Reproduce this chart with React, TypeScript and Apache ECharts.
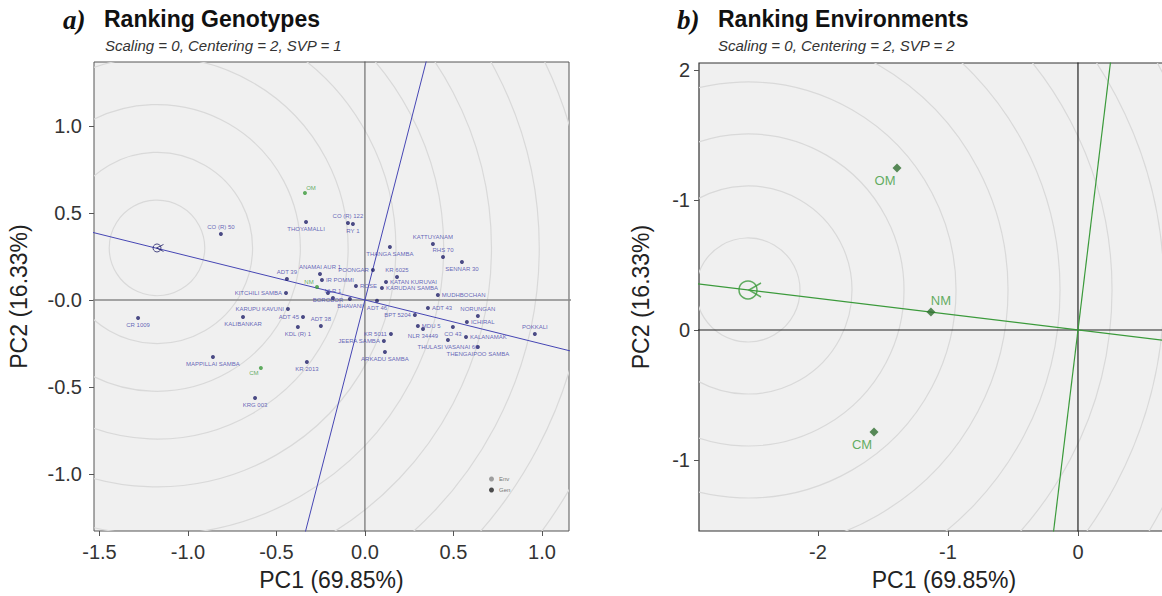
import React, { useEffect, useRef } from "react";
import * as echarts from "echarts";

// ---------- Panel a) genotypes ----------
const genotypeNames = [
  "CR 1009", "CO (R) 50", "THOYAMALLI", "CO (R) 122", "RY 1", "KATTUYANAM", "RHS 70", "SENNAR 30",
  "THANGA SAMBA", "ANAMAI AUR 1", "IR POMMI", "POONGAR", "KR 6025", "ADT 39", "KITCHILI SAMBA",
  "BOROBOR", "NLR 1", "ROSE", "BHAVANI", "KATAN KURUVAI", "KARUDAN SAMBA", "ADT 46", "MUDHBOCHAN",
  "ADT 43", "NORUNGAN", "BPT 5204", "MDU 5", "NLR 34449", "ICHIRAL", "CO 43", "POKKALI",
  "KALANAMAK", "THULASI VASANAI 66", "THENGAIPOO SAMBA", "KR 5011", "JEERA SAMBA", "ARKADU SAMBA",
  "KR 2013", "MAPPILLAI SAMBA", "KRG 003", "KALIBANKAR", "KARUPU KAVUNI", "ADT 45", "ADT 38", "KDL (R) 1",
];
const genotypePC1 = [
  -1.282, -0.814, -0.333, -0.096, -0.068, 0.384, 0.441, 0.548,
  0.141, -0.254, -0.243, 0.045, 0.181, -0.441, -0.446,
  -0.209, -0.181, -0.051, -0.085, 0.119, 0.096, 0.068, 0.412,
  0.356, 0.638, 0.282, 0.299, 0.328, 0.576, 0.497, 0.960,
  0.571, 0.469, 0.638, 0.147, 0.107, 0.113,
  -0.328, -0.859, -0.621, -0.689, -0.435, -0.350, -0.249, -0.379,
];
const genotypePC2 = [
  -0.103, 0.379, 0.448, 0.443, 0.437, 0.322, 0.247, 0.218,
  0.305, 0.149, 0.115, 0.172, 0.132, 0.121, 0.040,
  0.040, 0.011, 0.080, 0.006, 0.103, 0.069, -0.005, 0.029,
  -0.046, -0.092, -0.086, -0.149, -0.167, -0.126, -0.155, -0.195,
  -0.213, -0.230, -0.270, -0.195, -0.236, -0.299,
  -0.356, -0.328, -0.563, -0.098, -0.052, -0.098, -0.149, -0.155,
];
const genotypeLabelSide = [
  "bottom", "top", "bottom", "top", "bottom", "top", "top", "bottom",
  "bottom", "top", "right", "left", "top", "top", "left",
  "bottom", "top", "right", "bottom", "right", "right", "bottom", "right",
  "right", "top", "left", "right", "bottom", "right", "bottom", "top",
  "right", "bottom", "bottom", "left", "left", "bottom",
  "bottom", "bottom", "bottom", "bottom", "left", "left", "top", "bottom",
];

// environments
const envNames = ["OM", "NM", "CM"];
const envPC1_A = [-0.339, -0.271, -0.588];
const envPC2_A = [0.615, 0.075, -0.391];
const envPC1_B = [-1.392, -1.131, -1.569];
const envPC2_B = [1.246, 0.138, -0.785];

// ideal points, rings, reference lines
const idealA = [-1.175, 0.299];
const idealB = [-2.538, 0.308];
const ringRadiiA = [0.27, 0.54, 0.81, 1.08, 1.35, 1.62, 1.89, 2.16, 2.43, 2.7, 2.97];
const ringRadiiB = [0.4, 0.8, 1.2, 1.6, 2.0, 2.4, 2.8, 3.2, 3.6, 4.0];
const aecLineA = [[-1.6, 0.404], [1.2, -0.303]];
const atcLineA = [[-0.3535, -1.4], [0.3535, 1.4]];
const aecLineB = [[-3.0, 0.364], [1.0, -0.121]];
const atcLineB = [[-0.194, -1.6], [0.255, 2.1]];

// axes
const xRangeA = [-1.531, 1.153];
const yRangeA = [-1.328, 1.368];
const xRangeB = [-2.915, 0.854];
const yRangeB = [-1.546, 2.054];
const xTicksA = [-1.5, -1.0, -0.5, 0.0, 0.5, 1.0];
const xTickLabelsA = ["-1.5", "-1.0", "-0.5", "0.0", "0.5", "1.0"];
const yTicksA = [-1.0, -0.5, 0.0, 0.5, 1.0];
const yTickLabelsA = ["-1.0", "-0.5", "-0.0", "0.5", "1.0"];
const xTicksB = [-2, -1, 0];
const xTickLabelsB = ["-2", "-1", "0"];
const yTicksB = [-1, 0, 1, 2];
const yTickLabelsB = ["-1", "0", "-1", "2"];

const labelFor = (ticks: number[], labels: string[]) => (v: number) => {
  const i = ticks.findIndex((t) => Math.abs(t - v) < 1e-6);
  return i >= 0 ? labels[i] : "";
};

const FONT = "'Liberation Sans', Arial, sans-serif";

function ringSeries(center: number[], radii: number[], idx: number) {
  return {
    type: "custom",
    xAxisIndex: idx,
    yAxisIndex: idx,
    clip: true,
    silent: true,
    z: 1,
    data: radii.map((r) => [center[0], center[1], r]),
    encode: { x: 0, y: 1 },
    renderItem: (params: any, api: any) => {
      const c = api.coord([api.value(0), api.value(1)]);
      const r = api.size([api.value(2), 0])[0];
      return {
        type: "circle",
        shape: { cx: c[0], cy: c[1], r },
        style: { fill: "none", stroke: "#d9d9d9", lineWidth: 1.2 },
      };
    },
  };
}

function lineSeries(data: number[][], idx: number, color: string, width: number, z = 3) {
  return {
    type: "line",
    xAxisIndex: idx,
    yAxisIndex: idx,
    data,
    symbol: "none",
    silent: true,
    clip: true,
    z,
    lineStyle: { color, width },
  };
}

function xAxisCfg(idx: number, range: number[], ticks: number[], labels: string[]) {
  return {
    type: "value",
    gridIndex: idx,
    min: range[0],
    max: range[1],
    axisLine: { show: false, onZero: false },
    splitLine: { show: false },
    axisTick: { show: true, length: 5, customValues: ticks, lineStyle: { color: "#555" } },
    axisLabel: {
      customValues: ticks,
      formatter: labelFor(ticks, labels),
      fontSize: 20,
      color: "#333",
      margin: 11,
      fontFamily: FONT,
    },
    name: "PC1 (69.85%)",
    nameLocation: "middle",
    nameGap: 37,
    nameTextStyle: { fontSize: 23, color: "#222", fontFamily: FONT },
  };
}

function yAxisCfg(idx: number, range: number[], ticks: number[], labels: string[], gap: number, margin: number) {
  return {
    type: "value",
    gridIndex: idx,
    min: range[0],
    max: range[1],
    axisLine: { show: false, onZero: false },
    splitLine: { show: false },
    axisTick: { show: true, length: 5, customValues: ticks, lineStyle: { color: "#555" } },
    axisLabel: {
      customValues: ticks,
      formatter: labelFor(ticks, labels),
      fontSize: 20,
      color: "#333",
      margin,
      fontFamily: FONT,
    },
    name: "PC2 (16.33%)",
    nameLocation: "middle",
    nameGap: gap,
    nameTextStyle: { fontSize: 23, color: "#222", fontFamily: FONT },
  };
}

export default function App() {
  const ref = useRef<HTMLDivElement>(null);
  useEffect(() => {
    document.body.style.margin = "0";
    if (!ref.current) return;
    const chart = echarts.init(ref.current, null, { renderer: "svg" });

    const genData = genotypeNames.map((n, i) => ({
      name: n,
      value: [genotypePC1[i], genotypePC2[i]],
      label: { position: genotypeLabelSide[i] },
    }));
    const envPlaceA = [
      { position: "top", offset: [6, 2] },
      { position: "top", offset: [-8, 2] },
      { position: "bottom", offset: [-7, -2] },
    ];
    const envDataA = envNames.map((n, i) => ({ name: n, value: [envPC1_A[i], envPC2_A[i]], label: envPlaceA[i] }));
    const envPlaceB = [
      { position: "bottom", offset: [-12, -3] },
      { position: "top", offset: [10, 3] },
      { position: "bottom", offset: [-12, -3] },
    ];
    const envDataB = envNames.map((n, i) => ({
      name: n,
      value: [envPC1_B[i], envPC2_B[i]],
      label: envPlaceB[i],
    }));

    const green = "#3b9a3b";
    const navy = "#22226a";

    chart.setOption({
      animation: false,
      textStyle: { fontFamily: FONT },
      grid: [
        { left: 94, top: 62, width: 475, height: 469, outerBoundsMode: "none", containLabel: false, show: true, backgroundColor: "#f0f0f0", borderColor: "#555", borderWidth: 1 },
        { left: 699, top: 63, width: 490, height: 468, outerBoundsMode: "none", containLabel: false, show: true, backgroundColor: "#f0f0f0", borderColor: "#333", borderWidth: 1.2 },
      ],
      xAxis: [xAxisCfg(0, xRangeA, xTicksA, xTickLabelsA), xAxisCfg(1, xRangeB, xTicksB, xTickLabelsB)],
      yAxis: [
        yAxisCfg(0, yRangeA, yTicksA, yTickLabelsA, 64, 12),
        yAxisCfg(1, yRangeB, yTicksB, yTickLabelsB, 47, 9),
      ],
      legend: {
        left: 484,
        top: 471,
        orient: "vertical",
        itemWidth: 5,
        itemHeight: 5,
        itemGap: 5,
        selectedMode: false,
        textStyle: { fontSize: 6, color: "#777" },
        data: [
          { name: "Env", icon: "circle", itemStyle: { color: "#888" } },
          { name: "Gen", icon: "circle", itemStyle: { color: "#222" } },
        ],
      },
      graphic: [
        { type: "text", x: 63, y: 20, style: { text: "a)", fontSize: 27, fontWeight: "bold", fontStyle: "italic", fontFamily: "'Liberation Serif', serif", fill: "#111", verticalAlign: "middle", textVerticalAlign: "middle" } },
        { type: "text", x: 104, y: 19, style: { text: "Ranking Genotypes", fontSize: 23, fontWeight: "bold", fontFamily: FONT, fill: "#111", verticalAlign: "middle", textVerticalAlign: "middle" } },
        { type: "text", x: 105, y: 45, style: { text: "Scaling = 0, Centering = 2, SVP = 1", fontSize: 15, fontStyle: "italic", fontFamily: FONT, fill: "#333", verticalAlign: "middle", textVerticalAlign: "middle" } },
        { type: "text", x: 677, y: 20, style: { text: "b)", fontSize: 27, fontWeight: "bold", fontStyle: "italic", fontFamily: "'Liberation Serif', serif", fill: "#111", verticalAlign: "middle", textVerticalAlign: "middle" } },
        { type: "text", x: 718, y: 19, style: { text: "Ranking Environments", fontSize: 23, fontWeight: "bold", fontFamily: FONT, fill: "#111", verticalAlign: "middle", textVerticalAlign: "middle" } },
        { type: "text", x: 718, y: 45, style: { text: "Scaling = 0, Centering = 2, SVP = 2", fontSize: 15, fontStyle: "italic", fontFamily: FONT, fill: "#333", verticalAlign: "middle", textVerticalAlign: "middle" } },
      ],
      series: [
        ringSeries(idealA, ringRadiiA, 0),
        ringSeries(idealB, ringRadiiB, 1),
        lineSeries([[xRangeA[0] - 1, 0], [xRangeA[1] + 1, 0]], 0, "#8a8a8a", 1.6, 2),
        lineSeries([[0, yRangeA[0] - 1], [0, yRangeA[1] + 1]], 0, "#555", 1, 2),
        lineSeries([[xRangeB[0] - 1, 0], [xRangeB[1] + 1, 0]], 1, "#222", 1.2, 2),
        lineSeries([[0, yRangeB[0] - 1], [0, yRangeB[1] + 1]], 1, "#222", 1.2, 2),
        lineSeries(aecLineA, 0, "#4646b4", 1),
        lineSeries(atcLineA, 0, "#4646b4", 1),
        lineSeries(aecLineB, 1, green, 1.2),
        lineSeries(atcLineB, 1, green, 1.2),
        {
          name: "Gen",
          type: "scatter",
          xAxisIndex: 0,
          yAxisIndex: 0,
          symbolSize: 4,
          z: 5,
          itemStyle: { color: navy },
          label: { show: true, formatter: "{b}", fontSize: 6, color: "#4040a8", distance: 2 },
          data: genData,
        },
        {
          name: "Env",
          type: "scatter",
          xAxisIndex: 0,
          yAxisIndex: 0,
          symbolSize: 4,
          z: 5,
          itemStyle: { color: green },
          label: { show: true, formatter: "{b}", fontSize: 6, color: green, distance: 2 },
          data: envDataA,
        },
        {
          type: "scatter",
          xAxisIndex: 0,
          yAxisIndex: 0,
          symbol: "circle",
          symbolSize: 8,
          z: 6,
          itemStyle: { color: "none", borderColor: navy, borderWidth: 1 },
          data: [idealA],
        },
        {
          type: "scatter",
          xAxisIndex: 0,
          yAxisIndex: 0,
          symbol: "path://M10,0 L0,5 L10,10",
          symbolSize: [7, 7],
          symbolOffset: [3, 0],
          z: 6,
          itemStyle: { color: "none", borderColor: navy, borderWidth: 1 },
          data: [idealA],
        },
        {
          name: "EnvB",
          type: "scatter",
          xAxisIndex: 1,
          yAxisIndex: 1,
          symbol: "diamond",
          symbolSize: 9,
          z: 5,
          itemStyle: { color: "#2f6e2f" },
          label: { show: true, formatter: "{b}", fontSize: 13, color: green, distance: 4 },
          data: envDataB,
        },
        {
          type: "scatter",
          xAxisIndex: 1,
          yAxisIndex: 1,
          symbol: "circle",
          symbolSize: 18,
          z: 6,
          itemStyle: { color: "none", borderColor: green, borderWidth: 1.5 },
          data: [idealB],
        },
        {
          type: "scatter",
          xAxisIndex: 1,
          yAxisIndex: 1,
          symbol: "path://M12,0 L0,6 L12,12",
          symbolSize: [12, 14],
          symbolOffset: [7, 0],
          z: 6,
          itemStyle: { color: "none", borderColor: green, borderWidth: 1.5 },
          data: [idealB],
        },
      ],
    });
    return () => chart.dispose();
  }, []);
  return <div ref={ref} style={{ width: 1162, height: 596 }} />;
}
